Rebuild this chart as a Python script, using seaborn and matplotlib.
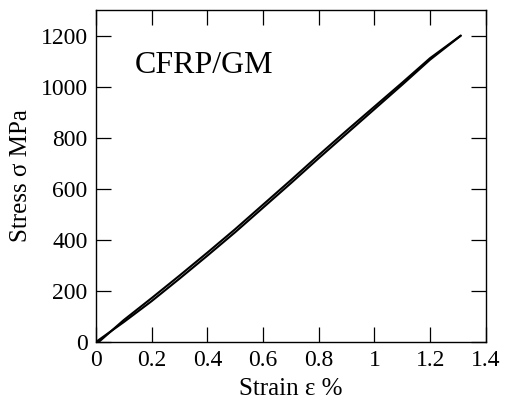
import matplotlib
matplotlib.use("Agg")
import matplotlib.pyplot as plt
import seaborn as sns
import pandas as pd

# Stress-strain response of the CFRP/GM specimen (loading and unloading)
strain_load = [0.0, 0.1, 0.2, 0.3, 0.4, 0.5, 0.6, 0.7, 0.8, 0.9, 1.0, 1.1, 1.2, 1.31]
stress_load = [0, 78, 160, 248, 338, 430, 526, 622, 720, 816, 912, 1008, 1106, 1200]
strain_unload = [1.31, 1.2, 1.1, 1.0, 0.9, 0.8, 0.7, 0.6, 0.5, 0.4, 0.3, 0.2, 0.1, 0.01]
stress_unload = [1200, 1112, 1016, 922, 828, 732, 634, 538, 442, 350, 260, 172, 86, 0]

x_ticks = [0, 0.2, 0.4, 0.6, 0.8, 1.0, 1.2, 1.4]
x_tick_labels = ["0", "0.2", "0.4", "0.6", "0.8", "1", "1.2", "1.4"]
y_ticks = [0, 200, 400, 600, 800, 1000, 1200]
y_tick_labels = ["0", "200", "400", "600", "800", "1000", "1200"]

df = pd.concat([
    pd.DataFrame({"strain": strain_load, "stress": stress_load, "branch": "load"}),
    pd.DataFrame({"strain": strain_unload, "stress": stress_unload, "branch": "unload"}),
], ignore_index=True)

sns.set_style("ticks")
plt.rcParams["font.family"] = ["Liberation Serif", "DejaVu Serif"]
plt.rcParams["text.color"] = "black"
plt.rcParams["axes.labelcolor"] = "black"

fig = plt.figure(figsize=(5.05, 4.05), dpi=100)
ax = fig.add_axes([0.190, 0.1556, 0.772, 0.8194])

sns.lineplot(data=df, x="strain", y="stress", hue="branch", units="branch",
             estimator=None, sort=False, palette=["black", "black"],
             linewidth=1.5, legend=False, ax=ax)

ax.set_xlim(0, 1.4)
ax.set_ylim(0, 1300)
ax.set_xticks(x_ticks)
ax.set_xticklabels(x_tick_labels)
ax.set_yticks(y_ticks)
ax.set_yticklabels(y_tick_labels)

ax.tick_params(direction="in", length=10.5, width=0.9, top=True, right=True,
               labelsize=17, pad=6, colors="black")
for s in ax.spines.values():
    s.set_linewidth(1.0)
    s.set_color("black")

ax.set_xlabel("Strain ε %", fontsize=18, labelpad=5, color="black")
ax.set_ylabel("Stress σ MPa", fontsize=18, labelpad=6, color="black")

ax.text(0.10, 0.878, "CFRP/GM", transform=ax.transAxes, fontsize=23,
        ha="left", va="top", color="black")

fig.savefig("out.png", dpi=100)
